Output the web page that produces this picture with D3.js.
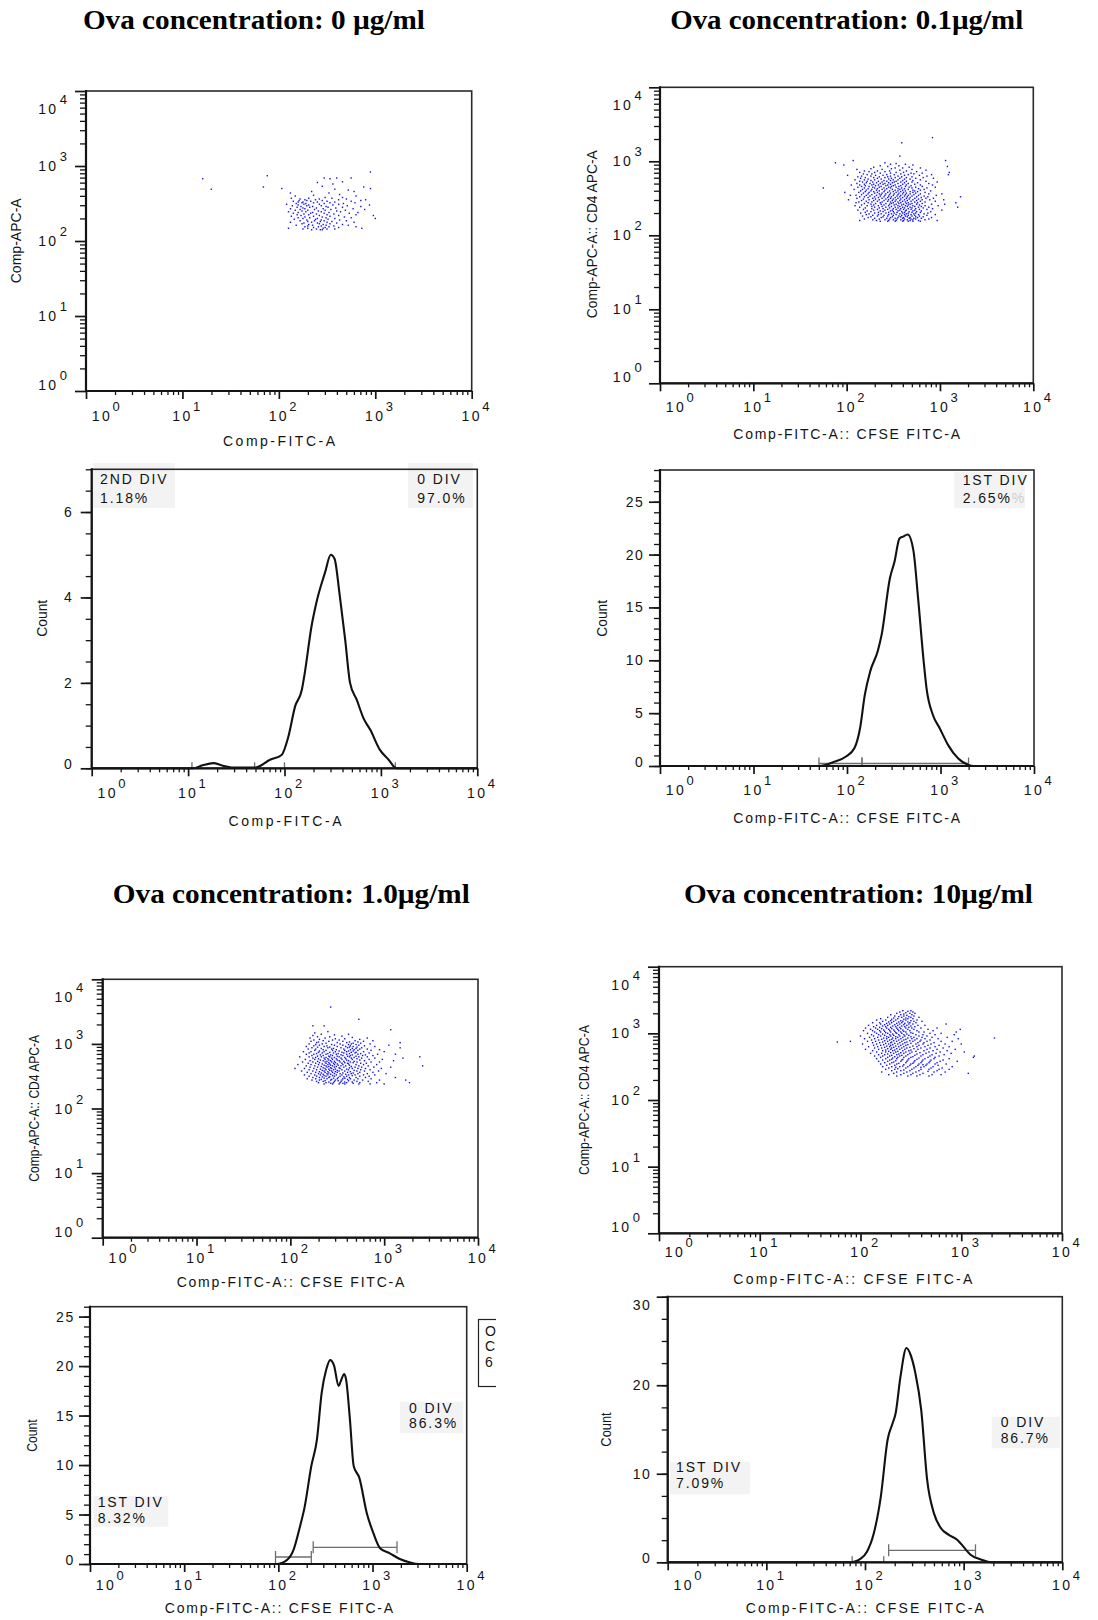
<!DOCTYPE html>
<html>
<head>
<meta charset="utf-8">
<script src="https://cdn.jsdelivr.net/npm/d3@7"></script>
<style>
  body { margin: 0; background: #fff; }
  svg { display: block; }
</style>
</head>
<body>
<svg id="fig" width="1098" height="1620"></svg>
<script>
// ---------------------------------------------------------------------------
// Data: CFSE dilution of CD4 T cells at four Ova concentrations
// ---------------------------------------------------------------------------
const panelTitles = [
  "Ova concentration: 0 µg/ml",
  "Ova concentration: 0.1µg/ml",
  "Ova concentration: 1.0µg/ml",
  "Ova concentration: 10µg/ml"
];
const scatterXTitles = ["Comp-FITC-A", "Comp-FITC-A:: CFSE FITC-A", "Comp-FITC-A:: CFSE FITC-A", "Comp-FITC-A:: CFSE FITC-A"];
const scatterYTitles = ["Comp-APC-A", "Comp-APC-A:: CD4 APC-A", "Comp-APC-A:: CD4 APC-A", "Comp-APC-A:: CD4 APC-A"];
const histXTitles = ["Comp-FITC-A", "Comp-FITC-A:: CFSE FITC-A", "Comp-FITC-A:: CFSE FITC-A", "Comp-FITC-A:: CFSE FITC-A"];
const histYTitle = "Count";

// decades shown on every fluorescence axis (10^0 .. 10^4)
const decadeTicks = [1, 10, 100, 1000, 10000];
const decadeExponents = ["0", "1", "2", "3", "4"];

// count axes of the histograms
const countMax = [7, 28, 26, 30];
const countTicks = [[0, 2, 4, 6], [0, 5, 10, 15, 20, 25], [0, 5, 10, 15, 20, 25], [0, 10, 20, 30]];
const countMinorStep = [0.5, 1, 1, 2.5];

// Events: rows of [log10 APC, [log10 FITC, ...]]
const cellsOva0 = [
  [2.92, [2.95]], [2.87, [1.88]], [2.84, [2.47, 2.6, 2.75]], [2.83, [1.21, 2.53]],
  [2.79, [2.66]], [2.78, [2.4]], [2.76, [2.56]], [2.73, [2.45]], [2.72, [1.84, 2.88]],
  [2.70, [2.03, 2.95]], [2.69, [1.30, 2.58]], [2.68, [2.72]], [2.66, [2.34, 2.78]],
  [2.64, [2.12, 2.52]], [2.62, [2.63]], [2.61, [2.36]], [2.60, [2.17, 2.8]],
  [2.58, [2.48, 2.66]], [2.57, [2.13, 2.31, 2.55]], [2.56, [2.22, 2.42, 2.7]],
  [2.55, [2.27, 2.38, 2.62, 2.9]], [2.54, [2.21, 2.29, 2.45, 2.85]],
  [2.53, [2.15, 2.33, 2.5, 2.75]], [2.52, [2.2, 2.25, 2.4, 2.58]],
  [2.51, [2.24, 2.36, 2.53, 2.79]], [2.50, [2.18, 2.28, 2.47, 2.67]],
  [2.49, [2.08, 2.26, 2.42, 2.62]], [2.48, [2.2, 2.31, 2.56, 2.94]],
  [2.47, [2.14, 2.29, 2.44, 2.71]], [2.46, [2.23, 2.35, 2.49, 2.85]],
  [2.45, [2.19, 2.32, 2.51, 2.66]], [2.44, [2.25, 2.39, 2.59]],
  [2.43, [2.12, 2.27, 2.46, 2.77]], [2.42, [2.22, 2.37, 2.54, 2.89]],
  [2.41, [2.17, 2.3, 2.48, 2.69]], [2.40, [2.24, 2.41, 2.6]],
  [2.39, [2.1, 2.28, 2.44, 2.64]], [2.38, [2.2, 2.35, 2.52, 2.82]],
  [2.37, [2.15, 2.33, 2.47, 2.73]], [2.36, [2.26, 2.39, 2.57]],
  [2.35, [2.19, 2.31, 2.5, 2.8]], [2.34, [2.23, 2.42, 2.62, 2.98]],
  [2.33, [2.13, 2.36, 2.53]], [2.32, [2.27, 2.45, 2.68]],
  [2.31, [2.2, 2.32, 2.49, 2.75]], [2.30, [2.25, 2.4, 2.58, 3.0]],
  [2.29, [2.16, 2.38, 2.51]], [2.28, [2.29, 2.44, 2.63]],
  [2.27, [2.22, 2.37, 2.47, 2.7]], [2.26, [2.3, 2.43, 2.55]],
  [2.25, [2.12, 2.34, 2.5, 2.78]], [2.24, [2.26, 2.4, 2.6]],
  [2.23, [2.24, 2.42, 2.53]], [2.22, [2.31, 2.46, 2.66]],
  [2.21, [2.18, 2.35, 2.49, 2.72]], [2.20, [2.3, 2.44, 2.57]],
  [2.19, [2.27, 2.41, 2.52, 2.8]], [2.18, [2.36, 2.48, 2.62]],
  [2.17, [2.1, 2.3, 2.46, 2.86]], [2.16, [2.25, 2.39, 2.5, 2.58]],
  [2.15, [2.34, 2.43, 2.45]]
];

const cellsOva01 = [
  [3.32, [2.92]], [3.25, [2.59]], [3.07, [2.57]], [3.01, [2.07, 3.06]],
  [2.98, [1.88, 2.41]], [2.97, [2.53]], [2.96, [2.47, 2.63]], [2.95, [1.97, 2.71]],
  [2.94, [2.36, 2.56]], [2.93, [2.44, 3.08]], [2.92, [2.29, 2.67]], [2.91, [2.52, 2.6, 2.79]],
  [2.90, [2.26, 2.48]], [2.89, [2.11, 2.38, 2.7]], [2.88, [2.57, 2.85]],
  [2.87, [2.19, 2.33, 2.46, 2.64]], [2.86, [2.24, 2.41, 2.75]],
  [2.85, [2.14, 2.3, 2.53, 2.61, 3.1]], [2.84, [2.36, 2.47, 2.69, 2.81]],
  [2.83, [2.18, 2.27, 2.58, 2.72]], [2.82, [2.22, 2.43, 2.51, 2.66, 2.91, 3.09]],
  [2.81, [2.01, 2.31, 2.39, 2.62, 2.78]], [2.80, [2.16, 2.26, 2.47, 2.55, 2.86]],
  [2.79, [2.12, 2.35, 2.44, 2.59, 2.7]], [2.78, [2.2, 2.29, 2.41, 2.52, 2.64, 2.82]],
  [2.77, [2.15, 2.33, 2.48, 2.57, 2.74, 2.93]], [2.76, [2.23, 2.37, 2.45, 2.62, 2.68]],
  [2.75, [2.09, 2.19, 2.3, 2.5, 2.55, 2.79]], [2.74, [2.26, 2.4, 2.47, 2.6, 2.71]],
  [2.73, [2.14, 2.22, 2.34, 2.43, 2.53, 2.64, 2.85]],
  [2.72, [2.17, 2.28, 2.38, 2.51, 2.58, 2.7, 2.97]],
  [2.71, [2.21, 2.32, 2.45, 2.49, 2.62, 2.76]],
  [2.70, [2.11, 2.25, 2.36, 2.41, 2.55, 2.66, 2.88]],
  [2.69, [2.19, 2.29, 2.39, 2.47, 2.6, 2.73]],
  [2.68, [2.05, 2.14, 2.27, 2.34, 2.44, 2.52, 2.64, 2.79, 2.92]],
  [2.67, [2.2, 2.31, 2.42, 2.5, 2.58, 2.69]],
  [2.66, [2.16, 2.24, 2.37, 2.48, 2.56, 2.63, 2.81]],
  [2.65, [2.12, 2.28, 2.35, 2.45, 2.53, 2.67, 2.74, 2.95]],
  [2.64, [1.75, 2.19, 2.3, 2.4, 2.47, 2.59, 2.7, 2.86]],
  [2.63, [2.23, 2.33, 2.43, 2.55, 2.62, 2.77]],
  [2.62, [2.08, 2.17, 2.27, 2.38, 2.49, 2.57, 2.66, 2.83]],
  [2.61, [2.21, 2.32, 2.41, 2.52, 2.6, 2.71, 2.79]],
  [2.60, [2.15, 2.26, 2.35, 2.46, 2.55, 2.63, 2.73, 2.9]],
  [2.59, [2.2, 2.29, 2.4, 2.5, 2.58, 2.68, 2.76]],
  [2.58, [1.98, 2.13, 2.24, 2.33, 2.44, 2.53, 2.61, 2.71, 2.84]],
  [2.57, [2.18, 2.3, 2.38, 2.47, 2.56, 2.64, 2.74]],
  [2.56, [2.23, 2.35, 2.42, 2.51, 2.6, 2.68, 2.79, 2.88, 3.02]],
  [2.55, [2.16, 2.27, 2.37, 2.46, 2.55, 2.63, 2.72]],
  [2.54, [2.04, 2.1, 2.21, 2.32, 2.41, 2.5, 2.58, 2.66, 2.77, 2.96]],
  [2.53, [2.25, 2.36, 2.45, 2.54, 2.62, 2.7, 2.83]],
  [2.52, [2.14, 2.19, 2.3, 2.4, 2.48, 2.57, 2.65, 2.75, 2.87, 3.22]],
  [2.51, [2.23, 2.34, 2.44, 2.52, 2.6, 2.68, 2.8]],
  [2.50, [2.11, 2.28, 2.38, 2.47, 2.55, 2.64, 2.73, 2.85, 2.93]],
  [2.49, [2.18, 2.31, 2.42, 2.5, 2.58, 2.67, 2.77]],
  [2.48, [2.02, 2.24, 2.35, 2.45, 2.53, 2.62, 2.71, 2.81, 2.89, 3.04]],
  [2.47, [2.16, 2.29, 2.4, 2.49, 2.57, 2.65, 2.75]],
  [2.46, [2.21, 2.33, 2.44, 2.52, 2.6, 2.69, 2.79, 2.95]],
  [2.45, [2.13, 2.27, 2.38, 2.47, 2.55, 2.63, 2.73, 2.84]],
  [2.44, [2.1, 2.23, 2.36, 2.5, 2.58, 2.66, 2.76, 3.17]],
  [2.43, [2.19, 2.31, 2.42, 2.48, 2.56, 2.64, 2.7, 2.81]],
  [2.42, [2.26, 2.37, 2.46, 2.53, 2.61, 2.68, 2.75, 2.91, 3.05]],
  [2.41, [2.16, 2.29, 2.4, 2.51, 2.59, 2.66, 2.78]],
  [2.40, [2.09, 2.22, 2.34, 2.45, 2.55, 2.63, 2.71, 2.84, 2.98]],
  [2.39, [2.27, 2.38, 2.48, 2.57, 2.65, 2.73, 2.8]],
  [2.38, [2.14, 2.3, 2.42, 2.52, 2.6, 2.68, 2.77, 2.88, 3.19]],
  [2.37, [2.2, 2.35, 2.46, 2.55, 2.62, 2.7, 2.82]],
  [2.36, [2.27, 2.39, 2.5, 2.58, 2.66, 2.74, 2.92]],
  [2.35, [2.18, 2.33, 2.44, 2.53, 2.61, 2.69, 2.78, 2.86]],
  [2.34, [2.12, 2.29, 2.41, 2.49, 2.57, 2.64, 2.73, 3.02]],
  [2.33, [2.22, 2.36, 2.47, 2.55, 2.63, 2.71, 2.8]],
  [2.32, [2.26, 2.39, 2.5, 2.59, 2.67, 2.75, 2.9]],
  [2.31, [2.2, 2.34, 2.45, 2.54, 2.62, 2.7, 2.79]],
  [2.30, [2.15, 2.3, 2.42, 2.51, 2.6, 2.66, 2.74, 2.87]],
  [2.29, [2.24, 2.37, 2.48, 2.57, 2.64, 2.72, 2.83]],
  [2.28, [2.21, 2.34, 2.45, 2.53, 2.62, 2.69, 2.77, 2.95]],
  [2.27, [2.28, 2.4, 2.5, 2.59, 2.66, 2.73, 2.86]],
  [2.26, [2.17, 2.33, 2.44, 2.56, 2.63, 2.7, 2.78]],
  [2.25, [2.26, 2.39, 2.49, 2.58, 2.65, 2.74, 2.82]],
  [2.24, [2.23, 2.37, 2.47, 2.55, 2.61, 2.68, 2.76, 2.91]],
  [2.23, [2.3, 2.43, 2.52, 2.6, 2.67, 2.72, 2.8]],
  [2.22, [2.19, 2.35, 2.46, 2.54, 2.62, 2.69, 2.74, 2.88]],
  [2.21, [2.28, 2.41, 2.5, 2.58, 2.65, 2.71, 2.84]],
  [2.20, [2.14, 2.32, 2.45, 2.53, 2.61, 2.68, 2.77, 2.97]],
  [2.19, [2.36, 2.44, 2.52, 2.6, 2.66, 2.71, 2.79]]
];

const cellsOva1 = [
  [3.57, [2.43]], [3.38, [2.73]], [3.28, [2.24, 2.36]], [3.22, [3.07]], [3.19, [2.4]],
  [3.17, [2.26]], [3.15, [2.33, 2.62]], [3.14, [2.47]], [3.13, [2.24]], [3.12, [2.55]],
  [3.11, [2.29, 2.42]], [3.10, [2.66]], [3.09, [2.21, 2.37, 2.82]], [3.08, [2.48, 2.58]],
  [3.07, [2.31, 2.74]], [3.06, [2.25, 2.45, 2.52]], [3.05, [2.35, 2.69, 2.88]],
  [3.04, [2.22, 2.41, 2.56, 2.78]], [3.03, [2.3, 2.63, 2.72]], [3.02, [2.28, 2.5, 2.6, 3.17]],
  [3.01, [2.38, 2.67, 2.75]], [3.00, [2.2, 2.34, 2.53, 2.65, 2.85]],
  [2.99, [2.27, 2.44, 2.62, 2.7]], [2.98, [2.31, 2.47, 2.56, 2.73, 3.05]],
  [2.97, [2.25, 2.39, 2.64, 2.79]], [2.96, [2.17, 2.36, 2.5, 2.59, 2.67, 2.9]],
  [2.95, [2.29, 2.42, 2.63, 2.71]], [2.94, [2.23, 2.4, 2.54, 2.61, 2.76, 3.17]],
  [2.93, [2.33, 2.46, 2.66, 2.7]], [2.92, [2.19, 2.27, 2.44, 2.57, 2.74, 2.82]],
  [2.91, [2.35, 2.49, 2.64, 2.68, 2.95]], [2.90, [2.26, 2.38, 2.45, 2.58, 2.72, 2.86]],
  [2.89, [2.31, 2.52, 2.62, 2.67]], [2.88, [2.14, 2.22, 2.36, 2.48, 2.6, 2.78, 3.0]],
  [2.87, [2.3, 2.42, 2.55, 2.65, 2.7]], [2.86, [2.2, 2.34, 2.46, 2.57, 2.69, 2.84]],
  [2.85, [2.28, 2.4, 2.51, 2.63, 2.75]], [2.84, [2.17, 2.25, 2.38, 2.49, 2.6, 2.72, 2.93, 3.12]],
  [2.83, [2.32, 2.43, 2.54, 2.66, 2.8]], [2.82, [2.23, 2.35, 2.45, 2.56, 2.64, 2.77, 2.88]],
  [2.81, [2.29, 2.41, 2.5, 2.61, 2.7]], [2.80, [2.1, 2.2, 2.33, 2.42, 2.52, 2.63, 2.73, 2.82, 3.38]],
  [2.79, [2.27, 2.38, 2.47, 2.58, 2.68]], [2.78, [2.24, 2.36, 2.44, 2.54, 2.65, 2.76, 2.9, 3.2]],
  [2.77, [2.3, 2.4, 2.49, 2.59, 2.71]], [2.76, [2.16, 2.26, 2.37, 2.45, 2.55, 2.66, 2.84, 2.98]],
  [2.75, [2.32, 2.41, 2.5, 2.6, 2.74]], [2.74, [2.21, 2.35, 2.43, 2.52, 2.62, 2.79, 3.1]],
  [2.73, [2.29, 2.39, 2.47, 2.57, 2.68]], [2.72, [2.13, 2.24, 2.37, 2.44, 2.53, 2.64, 2.71, 2.86, 2.95]],
  [2.71, [2.31, 2.41, 2.48, 2.58, 2.67]], [2.70, [2.19, 2.27, 2.38, 2.46, 2.55, 2.61, 2.75, 2.81]],
  [2.69, [2.34, 2.42, 2.5, 2.62]], [2.68, [2.08, 2.22, 2.3, 2.4, 2.47, 2.56, 2.7, 2.78, 2.92]],
  [2.67, [2.36, 2.43, 2.51, 2.63]], [2.66, [2.17, 2.26, 2.38, 2.45, 2.54, 2.59, 2.73, 2.83, 3.41]],
  [2.65, [2.33, 2.41, 2.49, 2.65]], [2.64, [2.21, 2.29, 2.39, 2.47, 2.57, 2.69, 2.76, 2.89, 3.07]],
  [2.63, [2.35, 2.43, 2.52, 2.63]], [2.62, [2.05, 2.15, 2.25, 2.37, 2.44, 2.53, 2.66, 2.72, 2.8, 2.97]],
  [2.61, [2.32, 2.41, 2.48, 2.6]], [2.60, [2.2, 2.28, 2.38, 2.46, 2.55, 2.62, 2.75, 2.85]],
  [2.59, [2.34, 2.42, 2.5, 2.68]], [2.58, [2.12, 2.24, 2.36, 2.44, 2.52, 2.58, 2.71, 2.79, 2.94]],
  [2.57, [2.31, 2.4, 2.48, 2.64]], [2.56, [2.18, 2.27, 2.37, 2.45, 2.5, 2.61, 2.74, 2.88]],
  [2.55, [2.33, 2.41, 2.56, 2.67]], [2.54, [2.22, 2.3, 2.39, 2.47, 2.53, 2.65, 2.72, 2.82, 3.02]],
  [2.53, [2.35, 2.43, 2.59]], [2.52, [2.15, 2.26, 2.32, 2.4, 2.49, 2.55, 2.62, 2.69, 2.78, 2.9]],
  [2.51, [2.36, 2.45, 2.66]], [2.50, [2.2, 2.28, 2.38, 2.47, 2.53, 2.6, 2.74, 2.84]],
  [2.49, [2.34, 2.42, 2.57]], [2.48, [2.24, 2.31, 2.41, 2.51, 2.63, 2.7, 2.8, 3.12]],
  [2.47, [2.36, 2.46, 2.58]], [2.46, [2.18, 2.27, 2.39, 2.5, 2.56, 2.64, 2.72, 2.86]],
  [2.45, [2.33, 2.44, 2.61]], [2.44, [2.23, 2.31, 2.43, 2.48, 2.55, 2.68, 2.77, 2.95, 3.23]],
  [2.43, [2.37, 2.51, 2.62]], [2.42, [2.28, 2.35, 2.47, 2.54, 2.71, 2.83]],
  [2.41, [2.41, 2.58, 2.66]], [2.40, [2.3, 2.38, 2.46, 2.53, 2.6, 2.74, 2.92, 3.27]],
  [2.39, [2.43, 2.56, 2.67]], [2.38, [2.36, 2.45, 2.52, 2.58, 2.73, 2.85, 3.0]]
];

const cellsOva10 = [
  [3.34, [2.42, 2.5]], [3.33, [2.47]], [3.32, [2.39, 2.52]], [3.31, [2.45]],
  [3.30, [2.36, 2.49, 2.54]], [3.29, [2.43]], [3.28, [2.3, 2.4, 2.51]], [3.27, [2.46]],
  [3.26, [2.34, 2.43, 2.53]], [3.25, [2.38, 2.48]], [3.24, [2.27, 2.41, 2.5, 2.58]],
  [3.23, [2.33, 2.45]], [3.22, [2.2, 2.37, 2.47, 2.52]], [3.21, [2.31, 2.43]],
  [3.20, [2.16, 2.25, 2.35, 2.45, 2.56]], [3.19, [2.3, 2.4, 2.5]],
  [3.18, [2.22, 2.33, 2.42, 2.53, 2.61]], [3.17, [2.28, 2.38, 2.47]],
  [3.16, [2.12, 2.19, 2.31, 2.41, 2.49, 2.55]], [3.15, [2.26, 2.36, 2.44]],
  [3.14, [2.2, 2.29, 2.39, 2.48, 2.52, 2.85]], [3.13, [2.24, 2.34, 2.43]],
  [3.12, [2.08, 2.16, 2.27, 2.37, 2.46, 2.57, 2.64]], [3.11, [2.22, 2.32, 2.41, 2.5]],
  [3.10, [2.13, 2.25, 2.35, 2.44, 2.54]], [3.09, [2.19, 2.3, 2.39, 2.48]],
  [3.08, [2.05, 2.15, 2.26, 2.36, 2.45, 2.51, 2.6, 2.76]], [3.07, [2.21, 2.31, 2.4]],
  [3.06, [2.1, 2.17, 2.28, 2.37, 2.47, 2.53, 2.67, 2.99]], [3.05, [2.23, 2.33, 2.42]],
  [3.04, [2.03, 2.12, 2.19, 2.29, 2.38, 2.49, 2.56, 2.72]], [3.03, [2.24, 2.34, 2.43]],
  [3.02, [2.14, 2.2, 2.3, 2.4, 2.45, 2.58, 2.63, 2.95]], [3.01, [2.25, 2.35, 2.5]],
  [3.00, [2.07, 2.16, 2.27, 2.36, 2.41, 2.52, 2.69, 2.8]], [2.99, [2.22, 2.32, 2.46]],
  [2.98, [2.11, 2.18, 2.29, 2.38, 2.43, 2.55, 2.62, 2.74, 2.93]], [2.97, [2.24, 2.33, 2.48]],
  [2.96, [2.0, 2.13, 2.2, 2.3, 2.39, 2.44, 2.58, 2.66]], [2.95, [2.26, 2.35, 2.5]],
  [2.94, [2.09, 2.17, 2.28, 2.37, 2.42, 2.53, 2.61, 2.71, 2.86]], [2.93, [2.23, 2.32, 2.47, 3.33]],
  [2.92, [2.04, 2.14, 2.26, 2.35, 2.4, 2.51, 2.56, 2.64, 2.77, 2.97]], [2.91, [2.21, 2.31, 2.45]],
  [2.90, [2.11, 2.18, 2.29, 2.38, 2.43, 2.54, 2.6, 2.69]], [2.89, [2.24, 2.33, 2.49]],
  [2.88, [1.9, 2.07, 2.15, 2.27, 2.36, 2.41, 2.52, 2.59, 2.66, 2.8, 2.91]],
  [2.87, [1.77, 2.22, 2.31, 2.46]],
  [2.86, [2.12, 2.19, 2.3, 2.39, 2.44, 2.57, 2.63, 2.73]], [2.85, [2.25, 2.34, 2.5]],
  [2.84, [2.02, 2.16, 2.28, 2.37, 2.42, 2.55, 2.62, 2.7, 2.84, 3.0]], [2.83, [2.23, 2.32, 2.47]],
  [2.82, [2.13, 2.2, 2.3, 2.4, 2.45, 2.58, 2.67, 2.78]], [2.81, [2.26, 2.35, 2.52]],
  [2.80, [2.08, 2.17, 2.29, 2.38, 2.43, 2.56, 2.64, 2.74, 2.88]], [2.79, [2.24, 2.33, 2.49]],
  [2.78, [2.14, 2.21, 2.31, 2.41, 2.46, 2.6, 2.69, 2.82]], [2.77, [2.27, 2.36, 2.53]],
  [2.76, [2.05, 2.18, 2.3, 2.39, 2.44, 2.57, 2.66, 2.76, 2.94]], [2.75, [2.25, 2.34, 2.5]],
  [2.74, [2.12, 2.22, 2.32, 2.42, 2.48, 2.63, 2.72, 2.86]], [2.73, [2.28, 2.37, 2.55]],
  [2.72, [2.16, 2.25, 2.35, 2.45, 2.51, 2.68, 2.79, 3.03]], [2.71, [2.3, 2.4, 2.59]],
  [2.70, [2.1, 2.21, 2.33, 2.43, 2.49, 2.65, 2.75, 2.9]], [2.69, [2.27, 2.38, 2.56]],
  [2.68, [2.18, 2.24, 2.36, 2.47, 2.62, 2.71, 2.83]], [2.67, [2.31, 2.41, 2.54]],
  [2.66, [2.14, 2.22, 2.29, 2.39, 2.45, 2.6, 2.69, 2.78, 3.13]], [2.65, [2.34, 2.52]],
  [2.64, [2.2, 2.27, 2.37, 2.43, 2.5, 2.67, 2.74, 3.12]], [2.63, [2.32, 2.58]],
  [2.62, [2.16, 2.25, 2.36, 2.48, 2.64, 2.73, 2.88]], [2.61, [2.31, 2.42, 2.56]],
  [2.60, [2.22, 2.29, 2.41, 2.47, 2.62, 2.7, 2.82]], [2.59, [2.35, 2.54]],
  [2.58, [2.18, 2.27, 2.4, 2.46, 2.61, 2.69, 2.79, 2.96]], [2.57, [2.33, 2.53]],
  [2.56, [2.24, 2.31, 2.45, 2.6, 2.68, 2.76]], [2.55, [2.38, 2.52]],
  [2.54, [2.2, 2.29, 2.36, 2.5, 2.58, 2.66, 2.74, 2.85]], [2.53, [2.43, 2.62]],
  [2.52, [2.26, 2.34, 2.49, 2.57, 2.65, 2.77]], [2.51, [2.42]],
  [2.50, [2.22, 2.31, 2.39, 2.47, 2.55, 2.63, 2.72, 2.91]], [2.49, [2.35, 2.6]],
  [2.48, [2.28, 2.45, 2.53, 2.7, 2.81]], [2.47, [2.37]],
  [2.46, [2.25, 2.34, 2.51, 2.6, 2.68, 2.78, 2.88]], [2.45, [2.43]],
  [2.44, [2.31, 2.4, 2.49, 2.58, 2.76]], [2.43, [2.67]],
  [2.42, [2.21, 2.36, 2.46, 2.55, 2.73, 2.84]], [2.40, [2.33, 2.43, 2.52, 2.62, 3.07]],
  [2.38, [2.28, 2.4, 2.5, 2.59, 2.71, 2.8]], [2.36, [2.36, 2.47, 2.56, 2.68]]
];

// Histograms: [log10 FITC, count]
const histOva0 = [
  [0, 0], [1.05, 0], [1.15, 0.07], [1.26, 0.12], [1.36, 0.06], [1.45, 0.02], [1.7, 0.02],
  [1.85, 0.2], [1.97, 0.31], [2.04, 0.74], [2.11, 1.45], [2.18, 1.84], [2.21, 2.23],
  [2.28, 3.32], [2.33, 3.87], [2.42, 4.58], [2.48, 5.0], [2.52, 4.9], [2.57, 4.1],
  [2.63, 3.0], [2.68, 2.0], [2.75, 1.6], [2.82, 1.17], [2.89, 0.9], [2.99, 0.43],
  [3.08, 0.2], [3.16, 0], [4, 0]
];
const histOva01 = [
  [0, 0], [1.71, 0], [1.85, 0.35], [1.99, 0.9], [2.08, 1.7], [2.14, 3.6], [2.19, 6.7],
  [2.25, 9.0], [2.33, 10.9], [2.37, 12.4], [2.46, 17.8], [2.51, 19.4], [2.56, 21.5],
  [2.6, 21.7], [2.65, 21.9], [2.71, 20.4], [2.76, 15.9], [2.82, 9.9], [2.85, 7.4],
  [2.92, 4.8], [2.99, 3.6], [3.08, 2.0], [3.19, 0.7], [3.3, 0.1], [3.35, 0], [4, 0]
];
const histOva1 = [
  [0, 0], [1.98, 0], [2.09, 0.4], [2.16, 1.4], [2.23, 3.8], [2.28, 5.8], [2.35, 9.9],
  [2.41, 12.6], [2.46, 17.3], [2.51, 19.7], [2.55, 20.6], [2.59, 20.1], [2.64, 18.0],
  [2.66, 18.4], [2.70, 19.2], [2.72, 18.6], [2.76, 14.6], [2.8, 9.9], [2.86, 8.7],
  [2.94, 5.1], [3.01, 3.1], [3.08, 1.6], [3.18, 1.1], [3.29, 0.5], [3.4, 0.15],
  [3.49, 0], [4, 0]
];
const histOva10 = [
  [0, 0], [1.85, 0], [1.96, 0.45], [2.02, 1.2], [2.09, 3.3], [2.16, 7.4], [2.23, 13.9],
  [2.28, 15.7], [2.31, 16.8], [2.36, 21.0], [2.42, 24.2], [2.46, 23.5], [2.51, 21.4],
  [2.57, 17.2], [2.63, 9.3], [2.7, 5.5], [2.77, 3.85], [2.85, 3.1], [2.94, 2.5],
  [3.01, 1.6], [3.07, 0.85], [3.18, 0.3], [3.28, 0], [4, 0]
];

// Division gates: [log10 FITC from, to]
const gatesOva0 = [[1.04, 1.69], [2.0, 3.15]];
const gatesOva01 = [[1.70, 2.16], [2.16, 3.30]];
const gatesOva1 = [[1.97, 2.35], [2.37, 3.26]];
const gatesOva10 = [[1.87, 2.19], [2.24, 3.12]];

// Gate statistics
const gateNames = [["2ND DIV", "0 DIV"], ["1ST DIV"], ["0 DIV", "1ST DIV"], ["0 DIV", "1ST DIV"]];
const gatePercents = [["1.18%", "97.0%"], ["2.65%"], ["86.3%", "8.32%"], ["86.7%", "7.09%"]];

const scatterData = [cellsOva0, cellsOva01, cellsOva1, cellsOva10];
const histData = [histOva0, histOva01, histOva1, histOva10];
const gateData = [gatesOva0, gatesOva01, gatesOva1, gatesOva10];

// ---------------------------------------------------------------------------
// Layout (pixels)
// ---------------------------------------------------------------------------
const layout = [
  {
    title: { x: 253.9, y: 28.5, len: 342 },
    sc: { l: 86, r: 471.7, t: 91, b: 391, xLabY: 420.7, yLabR: 67,
          xT: { x: 279, y: 446, len: 112 }, yT: { x: 21, y: 240.8, len: 85 } },
    hi: { l: 91.7, r: 477.3, t: 469.3, b: 768.3, xLabY: 798.3, yLabR: 72,
          xT: { x: 285, y: 825.5, len: 113 }, yT: { x: 47.4, y: 618.3, len: 37 },
          gateLift: [0, 0],
          labels: [ { x: 100, y: 484, dy: 18.7, bg: [93, 463, 175, 508] },
                    { x: 417.3, y: 484, dy: 18.7, bg: [408, 463, 473, 508] } ] }
  },
  {
    title: { x: 846.7, y: 28.5, len: 353 },
    sc: { l: 660, r: 1033.3, t: 87.3, b: 383.3, xLabY: 412.3, yLabR: 641.7,
          xT: { x: 846.7, y: 439, len: 226.7 }, yT: { x: 597, y: 234.2, len: 168 } },
    hi: { l: 660, r: 1034, t: 470, b: 766, xLabY: 795, yLabR: 643,
          xT: { x: 846.7, y: 823.3, len: 226.7 }, yT: { x: 607.4, y: 618.3, len: 36.7 },
          gateLift: [2.5, 2.5],
          labels: [ { x: 962.7, y: 485, dy: 18.3, bg: [954.3, 471.7, 1025, 508.3] } ] }
  },
  {
    title: { x: 291.3, y: 903, len: 357 },
    sc: { l: 102.7, r: 478, t: 979.3, b: 1237.7, xLabY: 1263, yLabR: 83.3,
          xT: { x: 290.5, y: 1286.7, len: 227.7 }, yT: { x: 39, y: 1108.3, len: 146.7 } },
    hi: { l: 90, r: 466.7, t: 1306.7, b: 1564, xLabY: 1590, yLabR: 73.3,
          xT: { x: 279, y: 1612.7, len: 228.3 }, yT: { x: 37.4, y: 1435.5, len: 32.3 },
          gateLift: [7, 16.7],
          labels: [ { x: 409, y: 1412.7, dy: 15.6, bg: [400, 1401.7, 463.3, 1433.3] },
                    { x: 97.7, y: 1506.7, dy: 16, bg: [93.3, 1496, 168.3, 1526.7] } ] }
  },
  {
    title: { x: 858.4, y: 903, len: 349 },
    sc: { l: 659, r: 1062, t: 966.7, b: 1233.3, xLabY: 1257, yLabR: 640,
          xT: { x: 852.8, y: 1284.3, len: 239 }, yT: { x: 589, y: 1100, len: 150 } },
    hi: { l: 667.7, r: 1062.3, t: 1296.7, b: 1562.3, xLabY: 1590, yLabR: 650,
          xT: { x: 864.8, y: 1612.7, len: 238.3 }, yT: { x: 610.7, y: 1429.5, len: 34.3 },
          gateLift: [0, 12],
          labels: [ { x: 1000.7, y: 1426.7, dy: 16.6, bg: [991.7, 1416.7, 1060, 1448.3] },
                    { x: 676, y: 1472.3, dy: 16, bg: [670, 1461.7, 750, 1494.3] } ] }
  }
];

const SANS = "'Liberation Sans', Arial, Helvetica, sans-serif";
const SERIF = "'Liberation Serif', 'Times New Roman', Times, serif";
const INK = "#141414";

const svg = d3.select("#fig");

// minor positions 2..9 x 10^n on a 10^0..10^4 log axis
const logMinor = [];
for (let d = 0; d < 4; d++) for (let k = 2; k < 10; k++) logMinor.push(k * Math.pow(10, d));

function styleAxis(g) {
  g.select(".domain").remove();
  g.selectAll(".tick line").attr("stroke", INK).attr("stroke-width", 1.3);
}

// x axis of decades with "10^n" labels
function decadeAxisX(g, x, y0, labY) {
  g.append("g").attr("transform", `translate(0,${y0})`)
    .call(d3.axisBottom(x).tickValues(logMinor).tickSize(4).tickFormat(""))
    .call(styleAxis);
  g.append("g").attr("transform", `translate(0,${y0})`)
    .call(d3.axisBottom(x).tickValues(decadeTicks).tickSize(8).tickFormat(""))
    .call(styleAxis)
    .call(a => a.selectAll(".tick line").attr("stroke-width", 1.7));
  decadeTicks.forEach((v, i) => {
    const cx = x(v) + (i === 0 ? 16 : 0);
    g.append("text").attr("x", cx).attr("y", labY).attr("text-anchor", "middle")
      .attr("font-family", SANS).attr("font-size", 14).attr("letter-spacing", 2.4)
      .attr("fill", INK).text("10");
    g.append("text").attr("x", cx + 10.5).attr("y", labY - 10)
      .attr("font-family", SANS).attr("font-size", 13).attr("fill", INK)
      .text(decadeExponents[i]);
  });
}

// y axis of decades with "10^n" labels, right aligned
function decadeAxisY(g, y, x0, labR) {
  g.append("g").attr("transform", `translate(${x0},0)`)
    .call(d3.axisLeft(y).tickValues(logMinor).tickSize(6).tickFormat(""))
    .call(styleAxis);
  g.append("g").attr("transform", `translate(${x0},0)`)
    .call(d3.axisLeft(y).tickValues(decadeTicks).tickSize(11).tickFormat(""))
    .call(styleAxis)
    .call(a => a.selectAll(".tick line").attr("stroke-width", 1.7));
  decadeTicks.forEach((v, i) => {
    let cy = y(v);
    if (i === 0) cy -= 6;
    if (i === decadeTicks.length - 1) cy += 18;
    g.append("text").attr("x", labR).attr("y", cy - 5)
      .attr("text-anchor", "end").attr("font-family", SANS).attr("font-size", 13)
      .attr("fill", INK).text(decadeExponents[i]);
    g.append("text").attr("x", labR - 8.5).attr("y", cy + 5)
      .attr("text-anchor", "end").attr("font-family", SANS).attr("font-size", 14)
      .attr("letter-spacing", 2.4).attr("fill", INK).text("10");
  });
}

function axisTitleX(g, t, str) {
  g.append("text").attr("x", t.x).attr("y", t.y).attr("text-anchor", "middle")
    .attr("font-family", SANS).attr("font-size", 14).attr("fill", INK)
    .attr("textLength", t.len).attr("lengthAdjust", "spacing").text(str);
}
function axisTitleY(g, t, str) {
  g.append("text").attr("transform", `translate(${t.x},${t.y}) rotate(-90)`)
    .attr("text-anchor", "middle").attr("font-family", SANS).attr("font-size", 15)
    .attr("fill", INK).attr("textLength", t.len).attr("lengthAdjust", "spacingAndGlyphs")
    .text(str);
}

function frame(g, L) {
  g.append("rect").attr("x", L.l).attr("y", L.t).attr("width", L.r - L.l).attr("height", L.b - L.t)
    .attr("fill", "none").attr("stroke", "#2a2a2a").attr("stroke-width", 1.6);
  g.append("line").attr("x1", L.l).attr("x2", L.l).attr("y1", L.t - 1).attr("y2", L.b)
    .attr("stroke", INK).attr("stroke-width", 2.2);
  g.append("line").attr("x1", L.l).attr("x2", L.r).attr("y1", L.b).attr("y2", L.b)
    .attr("stroke", INK).attr("stroke-width", 2.2);
}

// ---------------------------------------------------------------------------
// Titles
// ---------------------------------------------------------------------------
panelTitles.forEach((str, i) => {
  const t = layout[i].title;
  svg.append("text").attr("x", t.x).attr("y", t.y).attr("text-anchor", "middle")
    .attr("font-family", SERIF).attr("font-weight", "bold").attr("font-size", 28)
    .attr("fill", "#000").attr("textLength", t.len).attr("lengthAdjust", "spacingAndGlyphs")
    .text(str);
});

// ---------------------------------------------------------------------------
// Dot plots: CFSE (FITC) vs CD4 (APC)
// ---------------------------------------------------------------------------
scatterData.forEach((rows, i) => {
  const L = layout[i].sc;
  const g = svg.append("g").attr("class", "scatter");
  const x = d3.scaleLog().domain([1, 1e4]).range([L.l, L.r]);
  const y = d3.scaleLog().domain([1, 1e4]).range([L.b, L.t]);
  const events = rows.flatMap(([apc, fitcs]) => fitcs.map(f => ({ fitc: Math.pow(10, f), apc: Math.pow(10, apc) })));
  g.append("g").selectAll("rect").data(events).join("rect")
    .attr("x", d => x(d.fitc) - 0.7).attr("y", d => y(d.apc) - 0.7)
    .attr("width", 1.4).attr("height", 1.4).attr("fill", "#1010ff");
  frame(g, L);
  decadeAxisX(g, x, L.b, L.xLabY);
  decadeAxisY(g, y, L.l, L.yLabR);
  axisTitleX(g, L.xT, scatterXTitles[i]);
  axisTitleY(g, L.yT, scatterYTitles[i]);
});

// ---------------------------------------------------------------------------
// CFSE histograms with division gates
// ---------------------------------------------------------------------------
histData.forEach((pts, i) => {
  const L = layout[i].hi;
  const g = svg.append("g").attr("class", "histogram");
  const x = d3.scaleLog().domain([1, 1e4]).range([L.l, L.r]);
  const y = d3.scaleLinear().domain([0, countMax[i]]).range([L.b, L.t]);

  // gate statistic boxes
  gateNames[i].forEach((name, j) => {
    const p = L.labels[j];
    g.append("rect").attr("x", p.bg[0]).attr("y", p.bg[1])
      .attr("width", p.bg[2] - p.bg[0]).attr("height", p.bg[3] - p.bg[1]).attr("fill", "#f3f3f3");
    g.append("text").attr("x", p.x).attr("y", p.y).attr("font-family", SANS).attr("font-size", 14)
      .attr("letter-spacing", 1.9).attr("fill", INK).text(name);
    g.append("text").attr("x", p.x).attr("y", p.y + p.dy).attr("font-family", SANS).attr("font-size", 14)
      .attr("letter-spacing", 1.9).attr("fill", INK).text(gatePercents[i][j]);
  });
  if (i === 1) {
    const p = L.labels[0];
    g.append("text").attr("x", p.x + 49).attr("y", p.y + p.dy).attr("font-family", SANS)
      .attr("font-size", 14).attr("fill", "#cfcfcf").text("%");
  }

  // gate bars
  gateData[i].forEach(([a, b], j) => {
    const gy = L.b - L.gateLift[j];
    const gg = g.append("g").attr("stroke", "#6e6e6e").attr("stroke-width", 1.3);
    gg.append("line").attr("x1", x(Math.pow(10, a))).attr("x2", x(Math.pow(10, b))).attr("y1", gy).attr("y2", gy);
    [a, b].forEach(v => {
      gg.append("line").attr("x1", x(Math.pow(10, v))).attr("x2", x(Math.pow(10, v)))
        .attr("y1", gy - 6).attr("y2", Math.min(gy + 6, L.b));
    });
  });

  // count trace
  const line = d3.line()
    .x(d => x(Math.pow(10, d[0])))
    .y(d => y(d[1]))
    .curve(d3.curveMonotoneX);
  g.append("path").datum(pts).attr("d", line).attr("fill", "none")
    .attr("stroke", "#111").attr("stroke-width", 2.1).attr("stroke-linejoin", "round");

  frame(g, L);
  decadeAxisX(g, x, L.b, L.xLabY);

  // count axis
  const minor = d3.range(0, countMax[i] + 1e-9, countMinorStep[i]);
  g.append("g").attr("transform", `translate(${L.l},0)`)
    .call(d3.axisLeft(y).tickValues(minor).tickSize(6).tickFormat(""))
    .call(styleAxis);
  g.append("g").attr("transform", `translate(${L.l},0)`)
    .call(d3.axisLeft(y).tickValues(countTicks[i]).tickSize(11).tickFormat(""))
    .call(styleAxis)
    .call(a => a.selectAll(".tick line").attr("stroke-width", 1.7));
  countTicks[i].forEach(v => {
    let cy = y(v);
    if (v === 0) cy -= 4.5;
    if (cy - L.t < 8) cy = L.t + 8;
    g.append("text").attr("x", L.yLabR + 1.5).attr("y", cy + 5).attr("text-anchor", "end")
      .attr("font-family", SANS).attr("font-size", 14).attr("letter-spacing", 1.6)
      .attr("fill", INK).text(v);
  });

  axisTitleX(g, L.xT, histXTitles[i]);
  axisTitleY(g, L.yT, histYTitle);
});

// clipped statistics box at the right edge of the 1.0 µg/ml histogram
svg.append("clipPath").attr("id", "edgeClip")
  .append("rect").attr("x", 470).attr("y", 1300).attr("width", 26).attr("height", 100);
const edge = svg.append("g").attr("clip-path", "url(#edgeClip)");
edge.append("rect").attr("x", 478.5).attr("y", 1319.5).attr("width", 40).attr("height", 67)
  .attr("fill", "#fff").attr("stroke", "#222").attr("stroke-width", 1.2);
["O", "C", "6"].forEach((s, k) => {
  edge.append("text").attr("x", 485).attr("y", 1335.5 + k * 15.6).attr("font-family", SANS)
    .attr("font-size", 14).attr("fill", INK).text(s);
});
</script>
</body>
</html>
